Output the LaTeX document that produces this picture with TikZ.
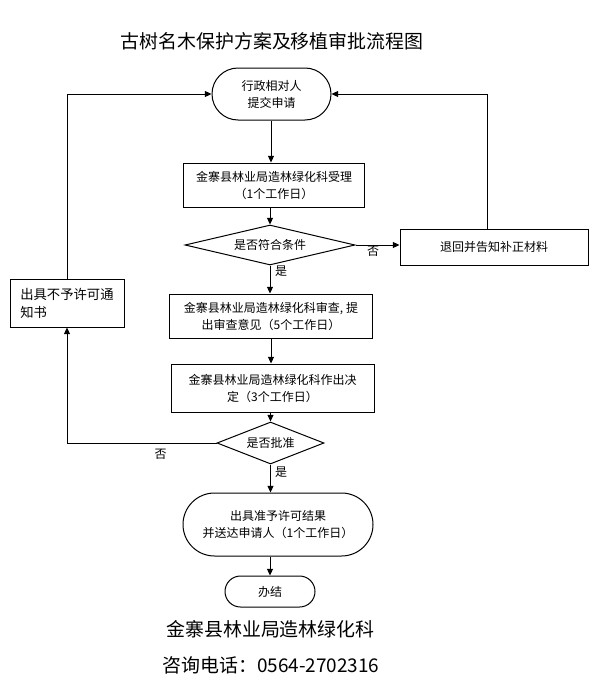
\documentclass[tikz,border=0pt]{standalone}
\usepackage{fontspec}
\setmainfont{Noto Sans CJK SC}
\usetikzlibrary{shapes.geometric,arrows.meta}
\def\pxu{*0.75pt}
\begin{document}
\begin{tikzpicture}[x=0.75pt,y=-0.75pt,
  line width=0.75pt,
  arr/.style={-{Triangle[length=5pt,width=4.5pt]}},
  box/.style={draw, rectangle, inner sep=0pt, align=center, font=\fontsize{9}{12.75}\selectfont},
  dia/.style={draw, diamond, inner sep=0pt, align=center, font=\fontsize{9}{12}\selectfont},
  lbl/.style={font=\fontsize{9}{12}\selectfont, inner sep=0pt},
  big/.style={font=\fontsize{14.2}{17}\selectfont, inner sep=0pt},
]
\useasboundingbox[fill=white] (0,0) rectangle (595,696);

\node[big] (title) at (272,41) {古树名木保护方案及移植审批流程图};

\node[box, rounded corners=19.5pt, minimum width=119\pxu, minimum height=52\pxu] (n1) at (271.5,94) {行政相对人\\提交申请};
\node[box, minimum width=181\pxu, minimum height=44\pxu] (n2) at (274,185) {金寨县林业局造林绿化科受理\\（1个工作日）};
\node[dia, aspect=4.25, minimum width=170\pxu, minimum height=40\pxu] (d1) at (270,245) {是否符合条件};
\node[box, minimum width=188\pxu, minimum height=36\pxu] (n3) at (494,247) {退回并告知补正材料};
\node[box, align=left, font=\fontsize{10}{13.5}\selectfont, minimum width=114\pxu, minimum height=48\pxu] (n4) at (67,303) {出具不予许可通\\知书};
\node[box, minimum width=203\pxu, minimum height=44\pxu] (n5) at (271,316) {金寨县林业局造林绿化科审查, 提\\出审查意见（5个工作日）};
\node[box, minimum width=203\pxu, minimum height=48\pxu] (n6) at (272.5,388) {金寨县林业局造林绿化科作出决\\定（3个工作日）};
\node[dia, aspect=2.55, minimum width=107\pxu, minimum height=42\pxu] (d2) at (270.5,443) {是否批准};
\node[box, rounded corners=23.6pt, minimum width=190\pxu, minimum height=63\pxu] (n7) at (278,524.5) {出具准予许可结果\\并送达申请人（1个工作日）};
\node[box, rounded corners=11.6pt, minimum width=90\pxu, minimum height=31\pxu] (n8) at (270,591.5) {办结};

\node[big] (f1) at (270.5,629) {金寨县林业局造林绿化科};
\node[big] (f2) at (271,665) {咨询电话：0564-2702316};

\coordinate (c3) at (487,0);
\coordinate (cm) at (271,0);

\draw[arr] (n1.south -| cm) -- (n2.north -| cm);
\draw[arr] (n2.south -| d1.north) -- (d1.north);
\draw[arr] (d1.east) -- (d1.east -| n3.west);
\node[lbl] (l1) at (373,251) {否};
\draw[arr] (n3.north -| c3) |- (n1.east);
\draw[arr] (n4.north) |- (n1.west);
\draw[arr] (d1.south) -- (d1.south |- n5.north);
\node[lbl] (l2) at (281,271) {是};
\draw[arr] (n5.south -| cm) -- (n6.north -| cm);
\draw[arr] (n6.south -| d2.north) -- (d2.north);
\draw[arr] (d2.west) -| (n4.south);
\node[lbl] (l3) at (160.5,454) {否};
\draw[arr] (d2.south) -- (d2.south |- n7.north);
\node[lbl] (l4) at (281,472.5) {是};
\draw[arr] (n7.south -| n8.north) -- (n8.north);
\end{tikzpicture}
\end{document}
